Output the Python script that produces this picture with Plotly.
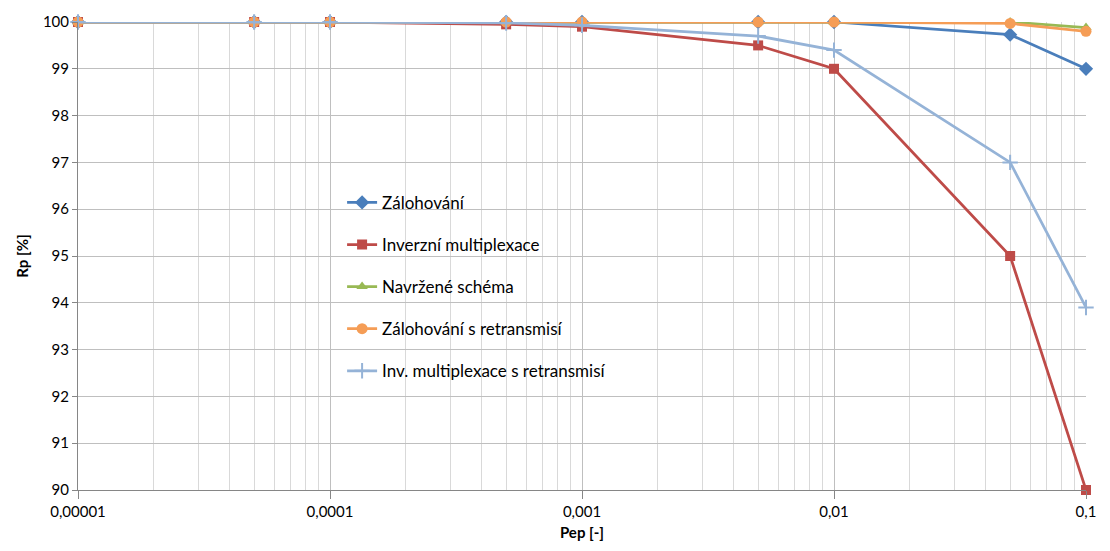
import plotly.graph_objects as go

pep = [0.00001, 0.00005, 0.0001, 0.0005, 0.001, 0.005, 0.01, 0.05, 0.1]
zalohovani = [100, 100, 100, 100, 100, 100, 100, 99.73, 99.0]
inverzni = [100, 100, 100, 99.95, 99.9, 99.5, 99.0, 95.0, 90.0]
navrzene = [100, 100, 100, 100, 100, 100, 100, 100, 99.88]
zal_retr = [100, 100, 100, 100, 100, 100, 100, 99.97, 99.8]
inv_retr = [100, 100, 100, 99.98, 99.93, 99.7, 99.4, 97.0, 93.9]

x_tickvals = [0.00001, 0.0001, 0.001, 0.01, 0.1]
x_ticktext = ["0,00001", "0,0001", "0,001", "0,01", "0,1"]
minor_vals = [m * 10 ** e for e in range(-5, -1) for m in range(2, 10)]

series = [
    ("Zálohování", zalohovani, "#4A7EBB", "diamond", 11),
    ("Inverzní multiplexace", inverzni, "#BE4B48", "square", 10),
    ("Navržené schéma", navrzene, "#98B954", "triangle-up", 10),
    ("Zálohování s retransmisí", zal_retr, "#F59D56", "circle", 11),
    ("Inv. multiplexace s retransmisí", inv_retr, "#95B3D7", "cross-thin", 11),
]

fig = go.Figure()
for i, (name, vals, color, sym, size) in enumerate(series):
    fig.add_trace(go.Scatter(
        x=pep, y=vals, name=name, mode="lines+markers",
        line=dict(color=color, width=2.75),
        marker=dict(symbol=sym, size=size, color=color,
                    line=dict(color=color, width=2 if sym == "cross-thin" else 0)),
        legendgroup=f"g{i}",
        cliponaxis=False,
    ))

fig.update_layout(
    width=1110, height=551,
    margin=dict(l=78, r=24, t=18, b=61),
    paper_bgcolor="white", plot_bgcolor="white",
    font=dict(family="Lato, 'Open Sans', sans-serif", size=15, color="#000000"),
    showlegend=True,
    legend=dict(x=0.262, y=0.652, xanchor="left", yanchor="top",
                bgcolor="rgba(0,0,0,0)", font=dict(size=17),
                tracegroupgap=17, itemwidth=30),
    xaxis=dict(
        type="log", range=[-5.00001, -0.99999],
        tickvals=x_tickvals, ticktext=x_ticktext,
        showgrid=True, gridcolor="#BFBFBF", gridwidth=1,
        ticks="outside", ticklen=8, tickcolor="#868686",
        showline=True, linecolor="#868686", linewidth=1,
        minor=dict(tickvals=minor_vals, showgrid=True, gridcolor="#D9D9D9", gridwidth=1, ticks=""),
        title=dict(text="<b>Pep [-]</b>", font=dict(size=15), standoff=8),
        zeroline=False,
        automargin=False,
    ),
    yaxis=dict(
        range=[90, 100], dtick=1,
        showgrid=True, gridcolor="#BFBFBF", gridwidth=1,
        ticks="outside", ticklen=5, tickcolor="#868686",
        showline=True, linecolor="#868686", linewidth=1,
        title=dict(text="<b>Rp [%]</b>", font=dict(size=15), standoff=10),
        zeroline=False,
    ),
)

fig.write_html("out.html")
